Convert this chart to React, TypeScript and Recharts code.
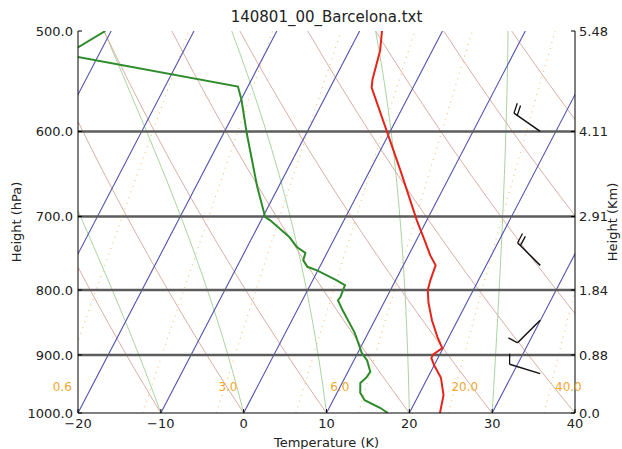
import React from 'react';
import { ComposedChart, Line, XAxis, YAxis, ReferenceLine, ReferenceDot, Scatter } from 'recharts';

// skew of the isotherms between 1000 and 500 hPa, in deg C
const SKEW = 24;
const skewX = (t: number, p: number) => t + (SKEW * Math.log(1000 / p)) / Math.LN2;

const pressureTicks = [500, 600, 700, 800, 900, 1000];
const heightLabels = ['5.48', '4.11', '2.91', '1.84', '0.88', '0.0'];
const tempTicks = [-20, -10, 0, 10, 20, 30, 40];

// sounding: temperature
const tempP = [1000, 968, 938, 917, 905, 899, 889, 871, 845, 819, 800, 786, 765, 751, 731, 705, 643, 602, 554, 546, 518, 500];
const tempT = [23.7, 23.0, 21.6, 20.0, 19.2, 19.2, 19.9, 18.6, 16.9, 15.4, 14.5, 14.2, 13.9, 12.6, 11.0, 8.8, 3.6, -0.2, -5.0, -5.4, -6.3, -7.3];

// sounding: dew point
const dewP = [1000, 991, 977, 964, 947, 937, 928, 909, 897, 865, 830, 815, 810, 793, 786, 772, 767, 758, 748, 740, 727, 705, 701, 663, 602, 567, 553, 522, 500];
const dewT = [17.4, 16.2, 13.8, 12.8, 12.2, 12.6, 12.7, 11.6, 10.5, 8.4, 5.5, 4.3, 4.4, 4.2, 2.9, -0.1, -1.5, -2.4, -2.6, -4.0, -5.5, -8.9, -9.7, -12.6, -17.2, -19.9, -21.2, -44.0, -40.7];

// wind barbs
const windP = [600, 765, 845, 931];
const windDir = [305, 315, 225, 287];
const windSpd = [20, 20, 10, 10];
const BARB_X = 35.8;

// background lines
const isotherms = [-70, -60, -50, -40, -30, -20, -10, 0, 10, 20, 30, 40];
const dryT0 = [-30, -20, -10, 0, 10, 20, 30, 40, 50, 60, 70, 80, 90, 100];
const moistT0 = [-30, -20, -10, 0, 10, 20, 30, 40];
const mixRatios = [0.6, 1.5, 3.0, 6.0, 10.0, 20.0, 40.0];

// orange labels
const mixLabels = ['0.6', '3.0', '6.0', '20.0', '40.0'];
const mixLabelX = [-21.9, -1.9, 11.6, 26.7, 39.2];
const MIX_LABEL_P = 954;

const Rd = 287.04, Cp = 1005.7, Lv = 2.501e6, EPS = 0.622;

const profile = (ps: number[], ts: number[]) => ps.map((p, i) => ({ x: skewX(ts[i], p), p }));

const isoLine = (t: number) => [1000, 500].map(p => ({ x: skewX(t, p), p }));

const dryLine = (t0: number) => {
  const pts = [];
  for (let p = 1000; p >= 500; p -= 25) {
    const t = (t0 + 273.15) * Math.pow(p / 1000, 0.2857) - 273.15;
    pts.push({ x: skewX(t, p), p });
  }
  return pts;
};

const moistLine = (t0: number) => {
  const pts = [];
  let T = t0 + 273.15;
  for (let p = 1000; p >= 500; p -= 10) {
    pts.push({ x: skewX(T - 273.15, p), p });
    const es = 6.112 * Math.exp((17.67 * (T - 273.15)) / (T - 29.65));
    const rs = (EPS * es) / (p - es);
    const dTdp = ((Rd * T + Lv * rs) / p) / (Cp + (Lv * Lv * rs * EPS) / (Rd * T * T));
    T -= dTdp * 10;
  }
  return pts;
};

const mixLine = (w: number) => {
  const pts = [];
  for (let p = 1000; p >= 500; p -= 25) {
    const e = (w * p) / (622 + w);
    const l = Math.log(e / 6.112);
    const td = (243.5 * l) / (17.67 - l);
    pts.push({ x: skewX(td, p), p });
  }
  return pts;
};

const windData = windP.map((p, i) => ({ x: BARB_X, p, dir: windDir[i], spd: windSpd[i] }));

const Barb = (props: any) => {
  const { cx, cy, payload } = props;
  const a = (payload.dir * Math.PI) / 180;
  const dx = Math.sin(a), dy = -Math.cos(a);
  const L = 32;
  const px = -dy, py = dx;
  const tipX = cx + dx * L, tipY = cy + dy * L;
  const feathers = [];
  let s = payload.spd;
  let k = 0;
  while (s >= 5) {
    const full = s >= 10;
    const fl = full ? 10 : 5;
    const bx = tipX - dx * k * 4, by = tipY - dy * k * 4;
    feathers.push(
      <line key={k} x1={bx} y1={by} x2={bx + px * fl + dx * 3} y2={by + py * fl + dy * 3} stroke="#111" strokeWidth={1.3} />
    );
    s -= full ? 10 : 5;
    k++;
  }
  return (
    <g>
      <line x1={cx} y1={cy} x2={tipX} y2={tipY} stroke="#111" strokeWidth={1.5} />
      {feathers}
    </g>
  );
};

const tickStyle = { fill: '#222', fontSize: 13 };
const fmtTemp = (v: number) => String(v).replace('-', '\u2212');

export default function App() {
  return (
    <div style={{ position: 'absolute', left: 0, top: 0, width: 622, height: 449, background: '#fff', fontFamily: 'DejaVu Sans' }}>
      <div style={{ position: 'absolute', left: 0, top: 8, width: 653, textAlign: 'center', fontSize: 15, color: '#222' }}>
        140801_00_Barcelona.txt
      </div>
      <div style={{ position: 'absolute', left: 16, top: 222, transform: 'translate(-50%, -50%) rotate(-90deg)', whiteSpace: 'nowrap', fontSize: 13, color: '#222' }}>
        Height (hPa)
      </div>
      <div style={{ position: 'absolute', left: 612, top: 222, transform: 'translate(-50%, -50%) rotate(-90deg)', whiteSpace: 'nowrap', fontSize: 13, color: '#222' }}>
        Height (Km)
      </div>
      <ComposedChart width={622} height={449} margin={{ top: 31, right: 0, bottom: 0, left: 0 }} style={{ position: 'absolute', left: 0, top: 0 }}>
        <XAxis
          xAxisId="bottom"
          dataKey="x"
          type="number"
          domain={[-20, 40]}
          ticks={tempTicks}
          allowDataOverflow
          height={36}
          tickSize={-4}
          tickMargin={10}
          tick={tickStyle}
          tickFormatter={fmtTemp}
          axisLine={{ stroke: '#000' }}
          tickLine={{ stroke: '#000' }}
          label={{ value: 'Temperature (K)', position: 'insideBottom', offset: 2, fill: '#222', fontSize: 13 }}
        />
        <XAxis
          xAxisId="top"
          orientation="top"
          dataKey="x"
          type="number"
          domain={[-20, 40]}
          ticks={tempTicks}
          allowDataOverflow
          height={0}
          tickSize={-4}
          tick={false}
          axisLine={{ stroke: '#000' }}
          tickLine={{ stroke: '#000' }}
        />
        <YAxis
          yAxisId="left"
          dataKey="p"
          type="number"
          scale="log"
          domain={[500, 1000]}
          reversed
          allowDataOverflow
          ticks={pressureTicks}
          width={78}
          tickSize={-4}
          tickMargin={9}
          tick={tickStyle}
          tickFormatter={(v: number) => v.toFixed(1)}
          axisLine={{ stroke: '#000' }}
          tickLine={{ stroke: '#000' }}
        />
        <YAxis
          yAxisId="right"
          orientation="right"
          dataKey="p"
          type="number"
          scale="log"
          domain={[500, 1000]}
          reversed
          allowDataOverflow
          ticks={pressureTicks}
          width={47}
          tickSize={-4}
          tickMargin={8}
          tick={tickStyle}
          tickFormatter={(v: number) => heightLabels[pressureTicks.indexOf(v)] ?? ''}
          axisLine={{ stroke: '#000' }}
          tickLine={{ stroke: '#000' }}
        />

        {mixRatios.map(w => (
          <Line key={`w${w}`} xAxisId="bottom" yAxisId="left" data={mixLine(w)} dataKey="p" stroke="#f2c27a" strokeWidth={1.2} strokeDasharray="1 5" dot={false} isAnimationActive={false} />
        ))}
        {moistT0.map(t => (
          <Line key={`m${t}`} xAxisId="bottom" yAxisId="left" data={moistLine(t)} dataKey="p" stroke="#a8d59e" strokeWidth={1} dot={false} isAnimationActive={false} />
        ))}
        {dryT0.map(t => (
          <Line key={`d${t}`} xAxisId="bottom" yAxisId="left" data={dryLine(t)} dataKey="p" stroke="#dbaea6" strokeWidth={1} dot={false} isAnimationActive={false} />
        ))}
        {isotherms.map(t => (
          <Line key={`i${t}`} xAxisId="bottom" yAxisId="left" data={isoLine(t)} dataKey="p" stroke="#5252b0" strokeWidth={1.1} dot={false} isAnimationActive={false} />
        ))}

        {[600, 700, 800, 900].map(p => (
          <ReferenceLine key={`g${p}`} xAxisId="bottom" yAxisId="left" y={p} stroke="#5c5c5c" strokeWidth={2.5} />
        ))}

        <Line xAxisId="bottom" yAxisId="left" data={profile(dewP, dewT)} dataKey="p" stroke="#2e8b2a" strokeWidth={2} dot={false} isAnimationActive={false} />
        <Line xAxisId="bottom" yAxisId="left" data={profile(tempP, tempT)} dataKey="p" stroke="#e3261b" strokeWidth={2} dot={false} isAnimationActive={false} />
        <Line xAxisId="bottom" yAxisId="right" data={pressureTicks.map(p => ({ x: -20, p }))} dataKey="p" stroke="none" dot={false} isAnimationActive={false} />

        <Scatter xAxisId="bottom" yAxisId="left" data={windData} dataKey="p" shape={Barb} isAnimationActive={false} />

        {mixLabels.map((lab, i) => (
          <ReferenceDot
            key={`l${lab}`}
            xAxisId="bottom"
            yAxisId="left"
            x={mixLabelX[i]}
            y={MIX_LABEL_P}
            r={0}
            fill="none"
            stroke="none"
            ifOverflow="visible"
            label={{ value: lab, position: 'center', fill: '#f0a830', fontSize: 12 }}
          />
        ))}
      </ComposedChart>
    </div>
  );
}
